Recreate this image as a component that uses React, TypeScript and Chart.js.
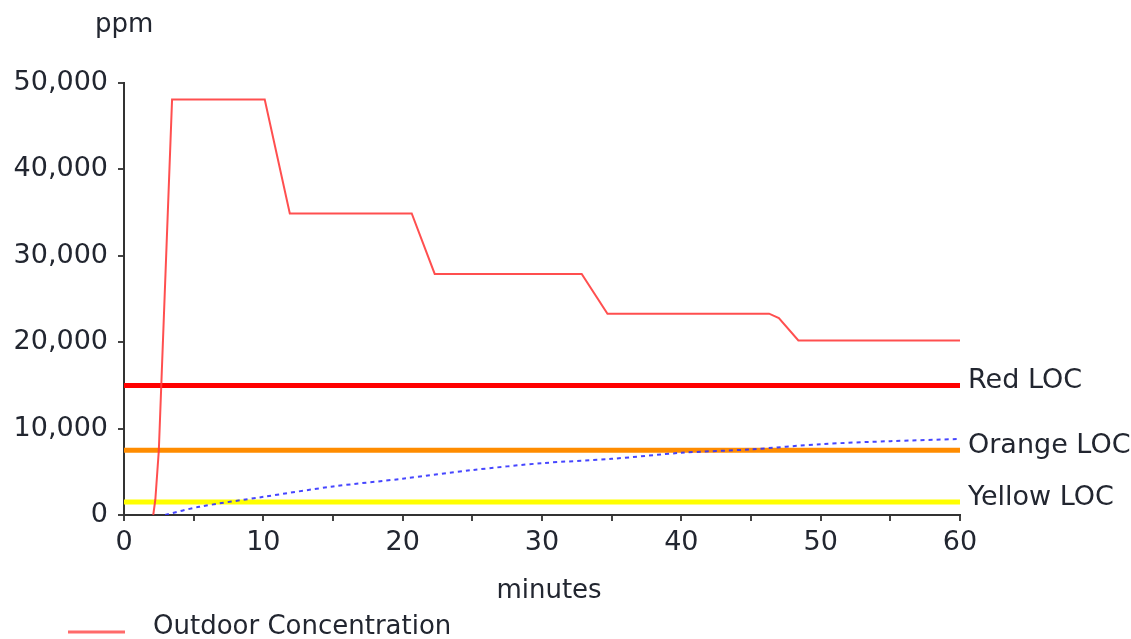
import React, { useEffect, useRef } from "react";
import { Chart, registerables } from "chart.js";

Chart.register(...registerables);

// Outdoor concentration (red line): minutes / ppm
const outdoorMinutes = [2.1, 2.25, 2.5, 3.45, 10.1, 11.9, 20.65, 22.3, 32.85, 34.7, 46.3, 47.0, 48.4, 60];
const outdoorPpm = [0, 1800, 7500, 48100, 48100, 34900, 34900, 27900, 27900, 23300, 23300, 22800, 20200, 20200];

// Indoor concentration (blue dotted line)
const indoorMinutes = [2.95, 5.4, 10, 15, 20, 25, 30, 35, 40, 45, 50, 55, 60];
const indoorPpm = [0, 950, 2100, 3300, 4200, 5200, 6000, 6500, 7200, 7600, 8200, 8550, 8800];

// Levels of concern
const locNames = ["Red LOC", "Orange LOC", "Yellow LOC"];
const locValues = [15000, 7500, 1500];
const locColors = ["#ff0000", "#ff8c00", "#ffff00"];

const xTicks = { min: 0, max: 60, step: 5, labelStep: 10 };
const yTicks = { min: 0, max: 50000, step: 10000 };

const FONT = "'DejaVu Sans', Verdana, sans-serif";
const TEXT = "#222630";

export default function App() {
  const ref = useRef<HTMLCanvasElement | null>(null);

  useEffect(() => {
    if (!ref.current) return;
    const toPts = (xs: number[], ys: number[]) => xs.map((x, i) => ({ x, y: ys[i] }));

    const labelsPlugin = {
      id: "labelsPlugin",
      afterDraw(chart: any) {
        const ctx = chart.ctx as CanvasRenderingContext2D;
        const xs = chart.scales.x;
        const ys = chart.scales.y;
        ctx.save();
        ctx.fillStyle = TEXT;
        ctx.textBaseline = "middle";
        // LOC labels
        ctx.font = `27px ${FONT}`;
        ctx.textAlign = "left";
        locNames.forEach((n, i) => {
          ctx.fillText(n, xs.right + 8, ys.getPixelForValue(locValues[i]) - 4);
        });
        // axis titles
        ctx.font = `26px ${FONT}`;
        ctx.fillText("ppm", 95, 25);
        ctx.textAlign = "center";
        ctx.fillText("minutes", 549, 591);
        // legend
        ctx.strokeStyle = "rgba(255,90,90,0.9)";
        ctx.lineWidth = 3;
        ctx.beginPath();
        ctx.moveTo(68, 632);
        ctx.lineTo(125, 632);
        ctx.stroke();
        ctx.textAlign = "left";
        ctx.fillText("Outdoor Concentration", 153, 627);
        ctx.restore();
      },
    };

    const chart = new Chart(ref.current, {
      type: "line",
      data: {
        datasets: [
          {
            label: "Outdoor Concentration",
            data: toPts(outdoorMinutes, outdoorPpm),
            borderColor: "rgba(255,60,60,0.9)",
            borderWidth: 2,
            pointRadius: 0,
            tension: 0,
          },
          {
            label: "Indoor Concentration",
            data: toPts(indoorMinutes, indoorPpm),
            borderColor: "rgba(50,50,255,0.9)",
            borderWidth: 2,
            borderDash: [4, 4],
            pointRadius: 0,
            tension: 0.3,
          },
          ...locNames.map((n, i) => ({
            label: n,
            data: [
              { x: xTicks.min, y: locValues[i] },
              { x: xTicks.max, y: locValues[i] },
            ],
            borderColor: locColors[i],
            borderWidth: 5,
            pointRadius: 0,
          })),
        ],
      },
      options: {
        animation: false,
        responsive: true,
        maintainAspectRatio: false,
        layout: { padding: { left: 0, top: 83, right: 171, bottom: 0 } },
        plugins: { legend: { display: false }, tooltip: { enabled: false } },
        scales: {
          x: {
            type: "linear",
            min: xTicks.min,
            max: xTicks.max,
            afterFit: (s: any) => {
              s.height = 124;
            },
            ticks: {
              stepSize: xTicks.step,
              autoSkip: false,
              maxRotation: 0,
              padding: 6,
              color: TEXT,
              font: { family: FONT, size: 27 },
              callback: (v: any) => (Number(v) % xTicks.labelStep === 0 ? String(v) : ""),
            },
            grid: { drawOnChartArea: false, drawTicks: true, tickLength: 6, color: "#444", lineWidth: 2 },
            border: { display: true, color: "#333", width: 2 },
          },
          y: {
            type: "linear",
            min: yTicks.min,
            max: yTicks.max,
            afterFit: (s: any) => {
              s.width = 124;
            },
            ticks: {
              stepSize: yTicks.step,
              padding: 10,
              color: TEXT,
              font: { family: FONT, size: 27 },
              callback: (v: any) => Number(v).toLocaleString("en-US"),
            },
            grid: { drawOnChartArea: false, drawTicks: true, tickLength: 6, color: "#444", lineWidth: 2 },
            border: { display: true, color: "#333", width: 2 },
          },
        },
      },
      plugins: [labelsPlugin],
    });
    return () => chart.destroy();
  }, []);

  return (
    <div style={{ position: "absolute", left: 0, top: 0, width: 1131, height: 639, background: "#fff" }}>
      <canvas ref={ref} />
    </div>
  );
}
